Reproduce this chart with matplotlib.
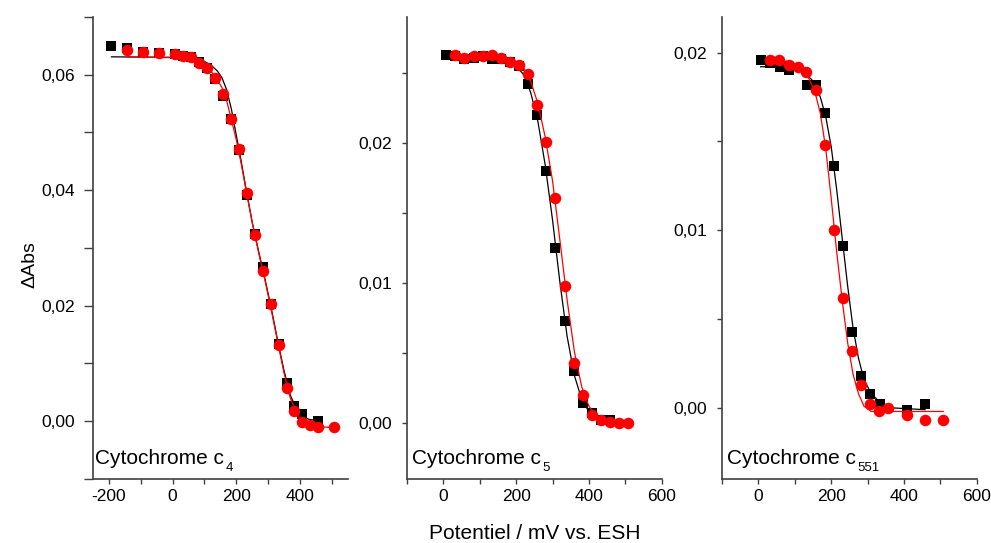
import matplotlib
matplotlib.use('Agg')
import matplotlib.pyplot as plt
from matplotlib.ticker import MultipleLocator, FuncFormatter

plt.rcParams['font.family'] = ['Liberation Sans', 'DejaVu Sans']
plt.rcParams['axes.unicode_minus'] = False

# --- Cytochrome c4 ---
c4_black_x = [-192, -142, -92, -42, 8, 33, 58, 83, 108, 133, 158, 183, 208, 233, 258, 283, 308, 333, 358, 383, 408, 458]
c4_black_y = [0.0649, 0.0647, 0.0640, 0.0638, 0.0636, 0.0633, 0.0630, 0.0622, 0.0612, 0.0592, 0.0563, 0.0524,
              0.0470, 0.0392, 0.0325, 0.0267, 0.0203, 0.0134, 0.0066, 0.0027, 0.0013, 0.0000]
c4_red_x = [-142, -92, -42, 8, 33, 58, 83, 108, 133, 158, 183, 208, 233, 258, 283, 308, 333, 358, 383, 408, 433, 458, 508]
c4_red_y = [0.0642, 0.0639, 0.0638, 0.0636, 0.0632, 0.0630, 0.0621, 0.0612, 0.0595, 0.0566, 0.0524, 0.0471,
            0.0395, 0.0323, 0.0261, 0.0203, 0.0132, 0.0058, 0.0018, -0.0001, -0.0006, -0.0010, -0.0010]
# fitted curves
c4_fit_black_x = [-192, 50, 90, 120, 140, 155, 170, 185, 200, 215, 230, 250, 270, 290, 310, 330, 350, 370, 390, 410, 430, 458]
c4_fit_black_y = [0.0631, 0.0630, 0.0626, 0.0617, 0.0607, 0.0595, 0.0574, 0.0540, 0.0496, 0.0452, 0.0405, 0.0345,
                  0.0295, 0.0247, 0.0196, 0.0140, 0.0088, 0.0045, 0.0020, 0.0008, 0.0003, 0.0001]
c4_fit_red_x = [-142, 50, 90, 120, 140, 155, 170, 185, 200, 215, 230, 250, 270, 290, 310, 330, 350, 370, 390, 410, 440, 508]
c4_fit_red_y = [0.0631, 0.0629, 0.0622, 0.0607, 0.0592, 0.0578, 0.0555, 0.0522, 0.0488, 0.0448, 0.0403, 0.0345,
                0.0293, 0.0245, 0.0193, 0.0138, 0.0084, 0.0040, 0.0012, -0.0003, -0.0009, -0.0011]

# --- Cytochrome c5 ---
c5_black_x = [8, 33, 58, 83, 108, 133, 158, 183, 208, 233, 258, 283, 308, 333, 358, 383, 408, 433, 458]
c5_black_y = [0.0263, 0.0262, 0.0260, 0.0261, 0.0262, 0.0260, 0.0260, 0.0258, 0.0255, 0.0242, 0.0220, 0.0180,
              0.0125, 0.0073, 0.0037, 0.0014, 0.0007, 0.0002, 0.0002]
c5_red_x = [33, 58, 83, 108, 133, 158, 183, 208, 233, 258, 283, 308, 333, 358, 383, 408, 433, 458, 483, 508]
c5_red_y = [0.0263, 0.0261, 0.0262, 0.0262, 0.0263, 0.0261, 0.0258, 0.0256, 0.0249, 0.0227, 0.0201, 0.0161,
            0.0098, 0.0043, 0.0020, 0.0006, 0.0002, 0.0001, 0.0000, 0.0000]
c5_fit_black_x = [8, 150, 180, 200, 220, 240, 260, 280, 300, 320, 340, 360, 380, 400, 420, 458]
c5_fit_black_y = [0.0260, 0.0260, 0.0258, 0.0255, 0.0249, 0.0236, 0.0215, 0.0184, 0.0145, 0.0101, 0.0062, 0.0034,
                  0.0017, 0.0008, 0.0004, 0.0002]
c5_fit_red_x = [33, 170, 200, 220, 240, 260, 280, 300, 320, 340, 360, 380, 400, 420, 450, 508]
c5_fit_red_y = [0.0262, 0.0261, 0.0258, 0.0254, 0.0244, 0.0228, 0.0204, 0.0173, 0.0131, 0.0088, 0.0051, 0.0026,
                0.0012, 0.0005, 0.0001, 0.0000]

# --- Cytochrome c551 ---
c551_black_x = [6, 33, 58, 83, 133, 158, 183, 208, 233, 258, 283, 308, 333, 408, 458]
c551_black_y = [0.0196, 0.0194, 0.0192, 0.0190, 0.0182, 0.0182, 0.0166, 0.0136, 0.0091, 0.0043, 0.0018, 0.0008,
                0.0002, -0.0001, 0.0002]
c551_red_x = [32, 57, 83, 108, 132, 157, 183, 208, 232, 257, 281, 306, 331, 357, 407, 458, 508]
c551_red_y = [0.0196, 0.0196, 0.0193, 0.0192, 0.0189, 0.0179, 0.0148, 0.0100, 0.0062, 0.0032, 0.0013, 0.0002,
              -0.0002, 0.0000, -0.0004, -0.0007, -0.0007]
c551_fit_black_x = [6, 50, 100, 125, 150, 170, 185, 200, 215, 230, 245, 260, 275, 290, 310, 335, 370, 458]
c551_fit_black_y = [0.0192, 0.0192, 0.0191, 0.0189, 0.0184, 0.0175, 0.0164, 0.0147, 0.0123, 0.0096, 0.0069, 0.0045,
                    0.0028, 0.0016, 0.0008, 0.0003, 0.0000, -0.0001]
c551_fit_red_x = [32, 80, 110, 135, 155, 170, 185, 200, 215, 230, 245, 260, 275, 290, 310, 508]
c551_fit_red_y = [0.0196, 0.0195, 0.0192, 0.0187, 0.0178, 0.0166, 0.0146, 0.0118, 0.0088, 0.0061, 0.0037, 0.0019,
                  0.0008, 0.0001, -0.0002, -0.0002]

panels = [
    ('4', c4_black_x, c4_black_y, c4_red_x, c4_red_y,
     c4_fit_black_x, c4_fit_black_y, c4_fit_red_x, c4_fit_red_y),
    ('5', c5_black_x, c5_black_y, c5_red_x, c5_red_y,
     c5_fit_black_x, c5_fit_black_y, c5_fit_red_x, c5_fit_red_y),
    ('551', c551_black_x, c551_black_y, c551_red_x, c551_red_y,
     c551_fit_black_x, c551_fit_black_y, c551_fit_red_x, c551_fit_red_y),
]
xlims = [(-250, 550), (-100, 600), (-100, 600)]
ylims = [(-0.01, 0.07), (-0.004, 0.029), (-0.004, 0.022)]
ysteps = [(0.02, 0.01), (0.01, 0.005), (0.01, 0.005)]
lefts = [0.0938, 0.4107, 0.7286]
ytick_len = [6.5, 3.5, 3.5]
ytick_pad = [6.5, 7.5, 7.5]
name_x = [0.008, 0.021, 0.019]

fig = plt.figure(figsize=(9.91, 5.43), dpi=100)
comma = FuncFormatter(lambda v, p: ('%.2f' % v).replace('.', ','))

for i, (sub, bx, by, rx, ry, fbx, fby, frx, fry) in enumerate(panels):
    ax = fig.add_axes([lefts[i], 0.1179, 0.257, 0.8508])
    ax.plot(fbx, fby, color='black', lw=0.9)
    ax.plot(bx, by, 's', color='black', ms=7.3, mew=0)
    ax.plot(frx, fry, color='red', lw=0.9)
    ax.plot(rx, ry, 'o', color='red', ms=8.3, mew=0)
    ax.set_xlim(*xlims[i])
    ax.set_ylim(*ylims[i])
    ax.xaxis.set_major_locator(MultipleLocator(200))
    ax.xaxis.set_minor_locator(MultipleLocator(100))
    ax.yaxis.set_major_locator(MultipleLocator(ysteps[i][0]))
    ax.yaxis.set_minor_locator(MultipleLocator(ysteps[i][1]))
    ax.yaxis.set_major_formatter(comma)
    for s in ['top', 'right']:
        ax.spines[s].set_visible(False)
    for s in ['left', 'bottom']:
        ax.spines[s].set_color('#404040')
        ax.spines[s].set_linewidth(1.2)
    ax.tick_params(which='both', direction='out', width=1, color='#404040', labelsize=12.5)
    ax.tick_params(axis='x', which='both', length=3.5, pad=4)
    ax.tick_params(axis='y', which='both', length=ytick_len[i], pad=ytick_pad[i])
    t = ax.text(name_x[i], 0.032, 'Cytochrome c', transform=ax.transAxes, fontsize=15,
                ha='left', va='baseline')
    ax.annotate(sub, xy=(1, 0), xycoords=t, xytext=(1.0, -1.8), textcoords='offset points',
                fontsize=9.5, ha='left', va='baseline')

fig.text(0.030, 0.512, '\u0394Abs', rotation=90, fontsize=14, ha='center', va='center')
fig.text(535 / 991, 0.018, 'Potentiel / mV vs. ESH', fontsize=15, ha='center', va='center')

fig.savefig('out.png', dpi=100)
